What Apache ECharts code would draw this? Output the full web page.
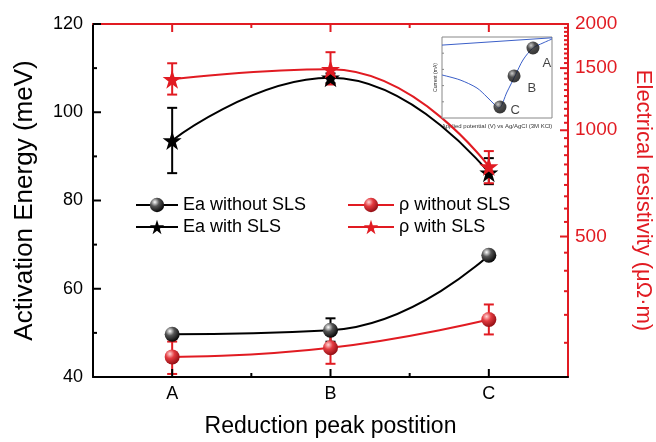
<!DOCTYPE html>
<html>
<head>
<meta charset="utf-8">
<script src="https://cdn.jsdelivr.net/npm/echarts@6/dist/echarts.min.js"></script>
<style>
html, body { margin: 0; padding: 0; background: #fff; }
#chart { width: 656px; height: 442px; }
</style>
</head>
<body>
<div id="chart"></div>
<script>
// reduction peak positions
var categories = ['A', 'B', 'C'];

// activation energy (meV), left axis
var eaWithout = [49.7, 50.6, 67.6];
var eaWithoutErr = [[48.9, 50.5], [48.0, 53.3], [67.0, 68.2]];
var eaWith = [93.6, 107.8, 86.3];
var eaWithErr = [[86.2, 101.0], [106.6, 108.8], [83.7, 89.6]];

// resistivity (µΩ·m), right axis
var rhoWithout = [228, 242, 291];
var rhoWithoutErr = [[204, 252], [218, 265], [264, 321]];
var rhoWith = [1394, 1488, 790];
var rhoWithErr = [[1262, 1548], [1348, 1664], [708, 873]];

// tick values
var eaMajorTicks = [40, 60, 80, 100, 120];
var eaMinorTicks = [50, 70, 90, 110];
var rhoMajorTicks = [500, 1000, 1500, 2000];
var rhoMinorTicks = [250, 300, 350, 400, 450, 550, 600, 650, 700, 750, 800, 850, 900, 950,
  1050, 1100, 1150, 1200, 1250, 1300, 1350, 1400, 1450, 1550, 1600, 1650, 1700, 1750, 1800, 1850, 1900, 1950];
var catMajorTicks = [0, 1, 2];
var catMinorTicks = [0.5, 1.5];

// inset: voltammogram (normalised units)
var insetUpper = [[0, 0.90], [1, 0.99]];
var insetLower = [[0, 0.531], [0.164, 0.47], [0.318, 0.37], [0.409, 0.259], [0.482, 0.16], [0.518, 0.123],
  [0.591, 0.321], [0.664, 0.519], [0.736, 0.716], [0.827, 0.864], [0.918, 0.926], [1.0, 0.975]];
var insetPeaks = [[0.827, 0.864], [0.655, 0.519], [0.527, 0.136]];
var insetPeakNames = ['A', 'B', 'C'];
var insetTicks = [0.2, 0.4, 0.6, 0.8];

var FONT = 'Liberation Sans, Arial, sans-serif';
var RED = '#e11b22';
var STAR = 'path://M50,0 L61.8,35.4 L99,35.4 L68.9,57.3 L80.4,92.7 L50,70.8 L19.6,92.7 L31.1,57.3 L1,35.4 L38.2,35.4 Z';
var labelOffsets = [[3, 15], [7, 12], [4, 3]];

function ball(c0, c1, c2) {
  return {
    type: 'radial', x: 0.35, y: 0.3, r: 0.75,
    colorStops: [{ offset: 0, color: c0 }, { offset: 0.4, color: c1 }, { offset: 1, color: c2 }]
  };
}

// inward ticks on the frame, placed through the axis scales
// side: 'left' | 'right' | 'bottom' | 'top'
function ticks(vals, side, len, color, xIdx, yIdx, lw) {
  var vertical = side === 'left' || side === 'right';
  return {
    type: 'custom', xAxisIndex: xIdx, yAxisIndex: yIdx, z: 6, silent: true, clip: false,
    data: vals.map(function (v) { return vertical ? [0.5, v] : [v, 60]; }),
    encode: { x: 0, y: 1 },
    renderItem: function (params, api) {
      var cs = params.coordSys;
      var p = api.coord([api.value(0), api.value(1)]);
      var s;
      if (side === 'left') s = { x1: cs.x, y1: p[1], x2: cs.x + len, y2: p[1] };
      else if (side === 'right') s = { x1: cs.x + cs.width, y1: p[1], x2: cs.x + cs.width - len, y2: p[1] };
      else if (side === 'bottom') s = { x1: p[0], y1: cs.y + cs.height, x2: p[0], y2: cs.y + cs.height - len };
      else s = { x1: p[0], y1: cs.y, x2: p[0], y2: cs.y + len };
      return { type: 'line', shape: s, style: { stroke: color, lineWidth: lw || 2 } };
    }
  };
}

// error bars drawn through the axes
function errorBars(err, yIndex, color) {
  return {
    type: 'custom',
    xAxisIndex: 0,
    yAxisIndex: yIndex,
    z: 1,
    silent: true,
    data: err.map(function (e, i) { return [i, e[0], e[1]]; }),
    encode: { x: 0, y: [1, 2] },
    renderItem: function (params, api) {
      var lo = api.coord([api.value(0), api.value(1)]);
      var hi = api.coord([api.value(0), api.value(2)]);
      var w = 5;
      var st = { stroke: color, lineWidth: 2 };
      return {
        type: 'group',
        children: [
          { type: 'line', shape: { x1: lo[0], y1: lo[1], x2: hi[0], y2: hi[1] }, style: st },
          { type: 'line', shape: { x1: lo[0] - w, y1: lo[1], x2: lo[0] + w, y2: lo[1] }, style: st },
          { type: 'line', shape: { x1: hi[0] - w, y1: hi[1], x2: hi[0] + w, y2: hi[1] }, style: st }
        ]
      };
    }
  };
}

var chart = echarts.init(document.getElementById('chart'));

chart.setOption({
  animation: false,
  backgroundColor: '#fff',
  textStyle: { fontFamily: FONT },
  grid: [
    { left: 93, right: 88, top: 24, bottom: 65, outerBoundsMode: 'none' },
    { left: 442, top: 37, width: 110, height: 81, show: true, borderColor: '#888', borderWidth: 1, backgroundColor: '#fff', z: 3, outerBoundsMode: 'none' }
  ],
  legend: [{
    data: ['Ea without SLS', 'Ea with SLS'],
    orient: 'vertical',
    left: 130, top: 191,
    itemWidth: 42, itemHeight: 18, itemGap: 4,
    textStyle: { fontSize: 18, color: '#000', fontFamily: FONT }
  }, {
    data: ['ρ without SLS', 'ρ with SLS'],
    orient: 'vertical',
    left: 342, top: 191,
    itemWidth: 46, itemHeight: 18, itemGap: 4,
    textStyle: { fontSize: 18, color: '#000', fontFamily: FONT }
  }],
  xAxis: [{
    type: 'category', data: categories, gridIndex: 0, position: 'bottom',
    name: 'Reduction peak postition', nameLocation: 'middle', nameGap: 38,
    nameTextStyle: { fontSize: 23, color: '#000', fontFamily: FONT },
    axisLine: { show: true, onZero: false, lineStyle: { color: '#000', width: 2 } },
    axisTick: { show: false },
    axisLabel: { fontSize: 18, color: '#000', margin: 8, fontFamily: FONT },
    splitLine: { show: false }
  }, {
    type: 'category', data: categories, gridIndex: 0, position: 'top',
    axisLine: { show: true, onZero: false, lineStyle: { color: RED, width: 2 } },
    axisTick: { show: false },
    axisLabel: { show: false },
    splitLine: { show: false }
  }, {
    // hidden numeric twin of the category axis, used to place half-step ticks
    type: 'value', gridIndex: 0, min: -0.5, max: 2.5, show: false,
    axisLine: { onZero: false }
  }, {
    type: 'value', gridIndex: 1, min: 0, max: 1,
    name: 'Applied potential (V) vs Ag/AgCl (3M KCl)', nameLocation: 'middle', nameGap: 5,
    nameTextStyle: { fontSize: 6, color: '#333', fontFamily: FONT },
    axisLine: { show: false, onZero: false }, axisTick: { show: false }, axisLabel: { show: false }, splitLine: { show: false }
  }],
  yAxis: [{
    type: 'value', gridIndex: 0, position: 'left', min: 40, max: 120, interval: 20,
    name: 'Activation Energy (meV)', nameLocation: 'middle', nameGap: 55,
    nameTextStyle: { fontSize: 26, color: '#000', fontFamily: FONT },
    axisLine: { show: true, onZero: false, lineStyle: { color: '#000', width: 2 } },
    axisTick: { show: false },
    axisLabel: { fontSize: 18, color: '#000', margin: 10, fontFamily: FONT },
    splitLine: { show: false }
  }, {
    type: 'log', logBase: 10, gridIndex: 0, position: 'right', min: 200, max: 2000,
    name: 'Electrical resistivity (μΩ·m)', nameLocation: 'middle', nameGap: 64, nameRotate: -90,
    nameTextStyle: { fontSize: 22, color: RED, fontFamily: FONT },
    axisLine: { show: true, onZero: false, lineStyle: { color: RED, width: 2 } },
    axisTick: { show: false },
    axisLabel: {
      fontSize: 19, color: RED, margin: 7, customValues: rhoMajorTicks, fontFamily: FONT,
      formatter: function (v) { return String(Math.round(v)); }
    },
    splitLine: { show: false }
  }, {
    type: 'value', gridIndex: 1, min: 0, max: 1,
    name: 'Current (mA)', nameLocation: 'middle', nameGap: 4,
    nameTextStyle: { fontSize: 5, color: '#333', fontFamily: FONT },
    axisLine: { show: false, onZero: false }, axisTick: { show: false }, axisLabel: { show: false }, splitLine: { show: false }
  }],
  series: [
    ticks(eaMajorTicks, 'left', 8, '#000', 2, 0),
    ticks(eaMinorTicks, 'left', 4, '#000', 2, 0),
    ticks(rhoMajorTicks, 'right', 8, RED, 2, 1),
    ticks(rhoMinorTicks, 'right', 4, RED, 2, 1),
    ticks(catMajorTicks, 'bottom', 8, '#000', 2, 0),
    ticks(catMinorTicks, 'bottom', 4, '#000', 2, 0),
    ticks(catMajorTicks, 'top', 8, RED, 2, 0),
    ticks(catMinorTicks, 'top', 4, RED, 2, 0),
    ticks(insetTicks, 'left', 2, '#888', 3, 2, 1),
    errorBars(eaWithoutErr, 0, '#000'),
    errorBars(eaWithErr, 0, '#000'),
    errorBars(rhoWithoutErr, 1, RED),
    errorBars(rhoWithErr, 1, RED),
    {
      name: 'Ea without SLS', type: 'line', xAxisIndex: 0, yAxisIndex: 0, z: 2,
      data: eaWithout, smooth: 0.5,
      symbol: 'circle', symbolSize: 15,
      lineStyle: { color: '#000', width: 2 },
      itemStyle: { color: ball('#ffffff', '#555555', '#000000') }
    }, {
      name: 'Ea with SLS', type: 'line', xAxisIndex: 0, yAxisIndex: 0, z: 2,
      data: eaWith, smooth: 0.5,
      symbol: STAR, symbolSize: 19,
      lineStyle: { color: '#000', width: 2 },
      itemStyle: { color: '#000' }
    }, {
      name: 'ρ without SLS', type: 'line', xAxisIndex: 0, yAxisIndex: 1, z: 2,
      data: rhoWithout, smooth: 0.5,
      symbol: 'circle', symbolSize: 15,
      lineStyle: { color: RED, width: 2 },
      itemStyle: { color: ball('#ffd6d6', '#e33b40', '#8c0a10') }
    }, {
      name: 'ρ with SLS', type: 'line', xAxisIndex: 0, yAxisIndex: 1, z: 2,
      data: rhoWith, smooth: 0.5,
      symbol: STAR, symbolSize: 19,
      lineStyle: { color: RED, width: 2 },
      itemStyle: { color: RED }
    },
    // inset
    {
      type: 'line', xAxisIndex: 3, yAxisIndex: 2, z: 4, silent: true,
      data: insetUpper, showSymbol: false,
      lineStyle: { color: '#3b5fc8', width: 1 }
    }, {
      type: 'line', xAxisIndex: 3, yAxisIndex: 2, z: 4, silent: true,
      data: insetLower, showSymbol: false, smooth: 0.3,
      lineStyle: { color: '#3b5fc8', width: 1 }
    }, {
      type: 'scatter', xAxisIndex: 3, yAxisIndex: 2, z: 5, silent: true,
      symbolSize: 13,
      itemStyle: { color: ball('#bbbbbb', '#222222', '#000000') },
      data: insetPeaks.map(function (p, i) {
        return {
          value: p,
          label: {
            show: true, position: 'right', distance: 0,
            offset: labelOffsets[i],
            formatter: insetPeakNames[i],
            fontSize: 13, color: '#111', fontFamily: FONT
          }
        };
      })
    }
  ]
});
</script>
</body>
</html>
